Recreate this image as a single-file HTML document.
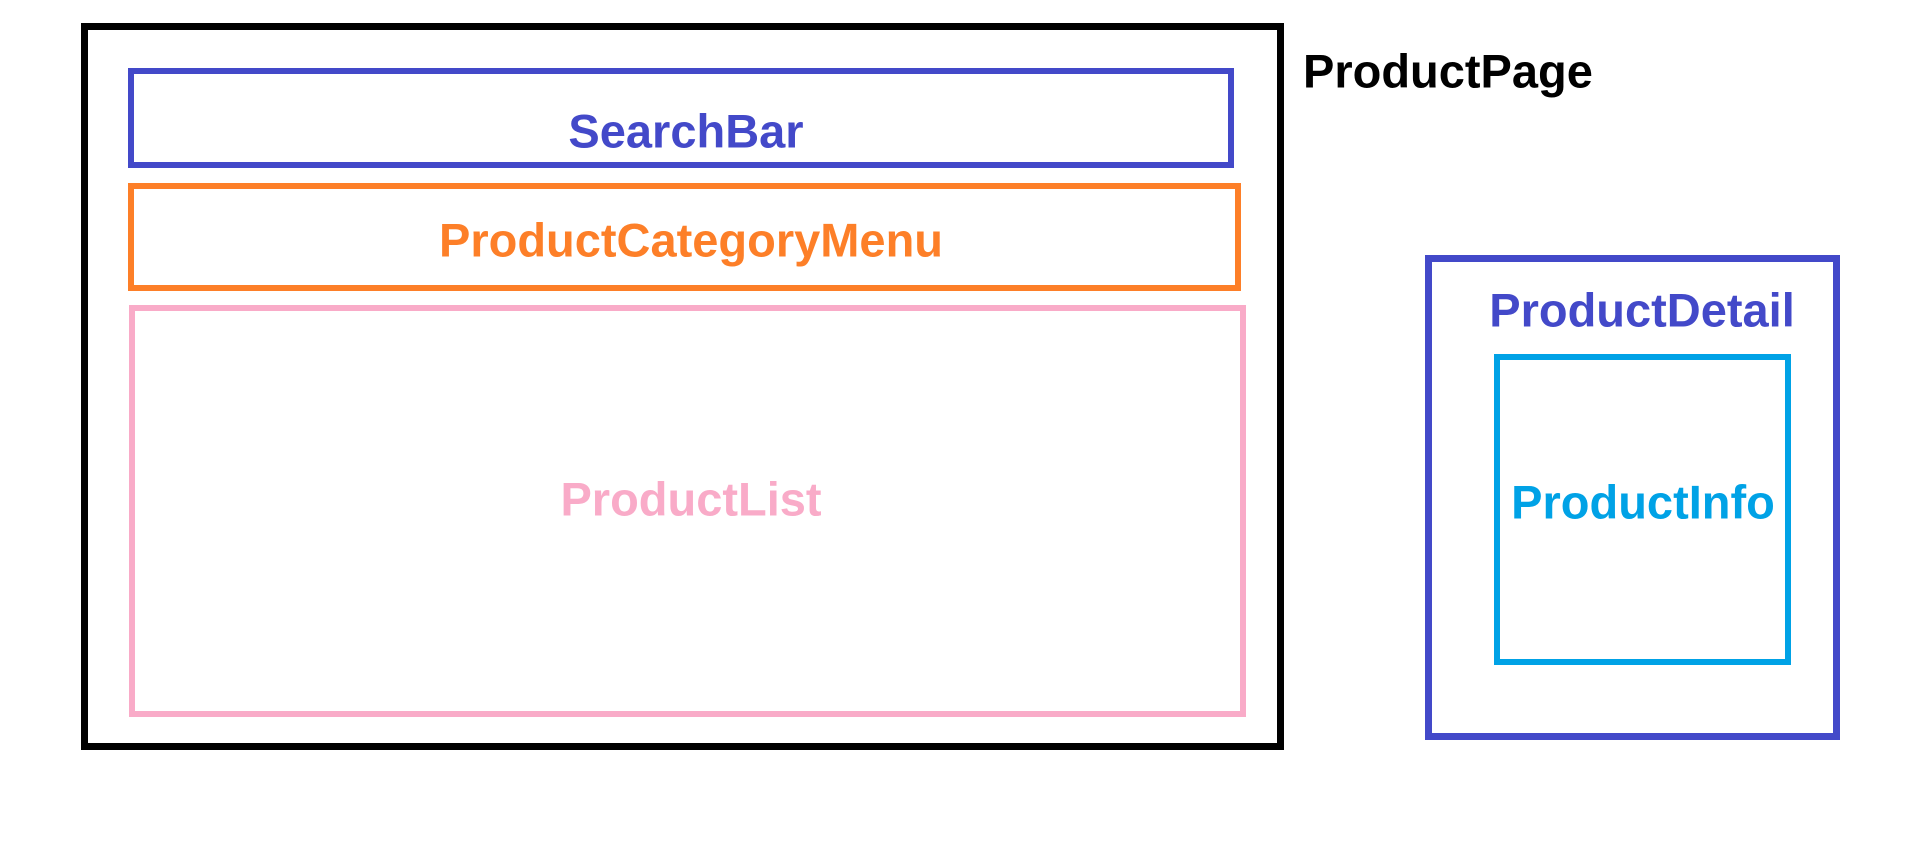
<!DOCTYPE html>
<html><head><style>
body{margin:0;width:1914px;height:844px;background:#fff;position:relative;overflow:hidden;font-family:"Liberation Sans",sans-serif;font-weight:bold}
.b{position:absolute;box-sizing:border-box}
.t{position:absolute;white-space:nowrap;transform:translate(-50%,-50%);font-size:47px;line-height:1}
</style></head><body>
<div class="b" style="left:81px;top:23px;width:1203px;height:727px;border:7px solid #000"></div>
<div class="b" style="left:128px;top:68px;width:1106px;height:100px;border:6px solid #4349c9"></div>
<div class="b" style="left:128px;top:183px;width:1113px;height:108px;border:6px solid #fd7f28"></div>
<div class="b" style="left:129px;top:305px;width:1117px;height:412px;border:6px solid #f9abc8"></div>
<div class="b" style="left:1425px;top:255px;width:415px;height:485px;border:7px solid #4349c9"></div>
<div class="b" style="left:1494px;top:354px;width:297px;height:311px;border:6px solid #00a2e6"></div>
<div class="t" style="left:1303px;top:71px;transform:translate(0,-50%);color:#000">ProductPage</div>
<div class="t" style="left:686px;top:131px;color:#4349c9">SearchBar</div>
<div class="t" style="left:691px;top:240px;color:#fd7f28">ProductCategoryMenu</div>
<div class="t" style="left:691px;top:499px;color:#f9abc8">ProductList</div>
<div class="t" style="left:1642px;top:310px;color:#4349c9">ProductDetail</div>
<div class="t" style="left:1643px;top:502px;color:#00a2e6">ProductInfo</div>
</body></html>
